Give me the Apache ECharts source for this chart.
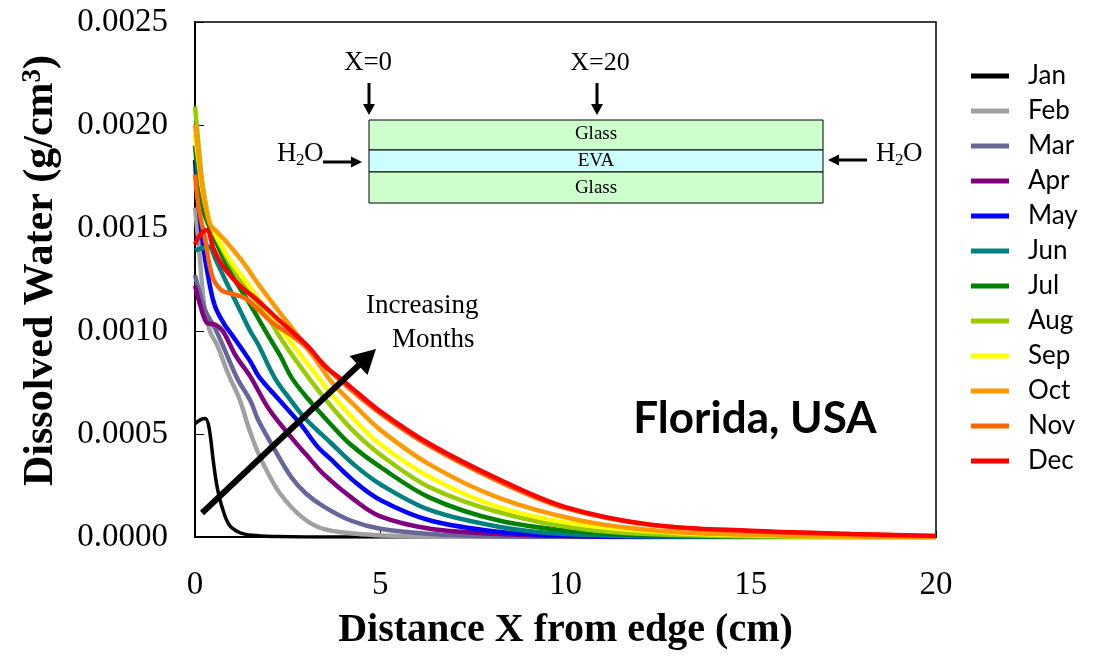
<!DOCTYPE html>
<html>
<head>
<meta charset="utf-8">
<script src="https://cdn.jsdelivr.net/npm/echarts@6/dist/echarts.min.js"></script>
<style>html,body{margin:0;padding:0;background:#fff}#c{width:1097px;height:656px}</style>
</head>
<body>
<div id="c"></div>
<script>
// ---- data: [distance cm, dissolved water g/cm3] ----
const months = ['Jan','Feb','Mar','Apr','May','Jun','Jul','Aug','Sep','Oct','Nov','Dec'];
const colors = ['#000000','#A0A0A0','#666699','#800080','#0000FF','#008080','#008000','#99CC00','#FFFF00','#FF9900','#FF6600','#FF0000'];
const xTicks = [0, 5, 10, 15, 20];
const yTicks = [0, 0.0005, 0.001, 0.0015, 0.002, 0.0025];

const jan = [[0,0.00055],[0.15,0.00057],[0.28,0.000575],[0.38,0.00053],[0.5,0.00036],[0.6,0.00024],[0.73,0.000145],[0.92,0.00006],[1.2,0.000022],[1.55,0.000008],[2.2,0.000002],[3,0],[20,0]];
const feb = [[0,0.0016],[0.1,0.00142],[0.25,0.00112],[0.4,0.001],[0.6,0.00093],[0.9,0.00079],[1.2,0.00067],[1.45,0.00053],[1.7,0.00041],[2.0,0.0003],[2.3,0.00021],[2.8,0.00011],[3.3,0.00005],[3.9,0.000024],[4.8,0.00001],[6,0.000003],[8,0],[20,0]];
const mar = [[0,0.00127],[0.15,0.00117],[0.3,0.00109],[0.55,0.00101],[0.8,0.00091],[1.14,0.00077],[1.5,0.00066],[1.7,0.00057],[2.1,0.00044],[2.6,0.00029],[3.0,0.00021],[3.5,0.000145],[4.2,0.00008],[5.0,0.00004],[6.35,0.000015],[8,0.000004],[10,0],[20,0]];
const apr = [[0,0.00122],[0.15,0.00112],[0.32,0.00104],[0.55,0.00103],[0.75,0.001],[1.1,0.00088],[1.49,0.00078],[2.0,0.00062],[2.57,0.00049],[3.0,0.0004],[3.5,0.0003],[4.3,0.00018],[5.0,0.0001],[6.35,0.00004],[8.2,0.000015],[10,0.000005],[12,0],[20,0]];
const may = [[0,0.00183],[0.1,0.0016],[0.23,0.0014],[0.37,0.00125],[0.54,0.00112],[0.8,0.00103],[1.0,0.00098],[1.5,0.00085],[1.72,0.00078],[2.3,0.00066],[2.84,0.00055],[3.3,0.00044],[3.65,0.00038],[4.3,0.00027],[5.0,0.00018],[6.35,0.00008],[8.2,0.000025],[10,0.000006],[13,0],[20,0]];
const jun = [[0,0.00139],[0.15,0.0014],[0.37,0.00141],[0.55,0.00135],[0.81,0.00125],[1.27,0.00108],[1.49,0.001],[1.72,0.00093],[2.16,0.00077],[2.6,0.00066],[3.0,0.00057],[3.65,0.00046],[4.3,0.00035],[5.0,0.000256],[6.35,0.00013],[8.2,0.00005],[10,0.000014],[13,0.000002],[20,0]];
const jul = [[0,0.0019],[0.1,0.00172],[0.2,0.0016],[0.4,0.0015],[0.7,0.00138],[1.0,0.00127],[1.45,0.00114],[2.0,0.00097],[2.3,0.00088],[2.62,0.00077],[3.1,0.00066],[3.65,0.00055],[4.19,0.00045],[5.0,0.00034],[6.35,0.00019],[8.2,0.00008],[10.4,0.000025],[13,0.000005],[20,0]];
const aug = [[0,0.00209],[0.1,0.0019],[0.2,0.00172],[0.4,0.00153],[0.7,0.00141],[1.0,0.00131],[1.45,0.00119],[1.85,0.0011],[2.4,0.00094],[3.08,0.00077],[3.65,0.00064],[4.3,0.00051],[5.0,0.0004],[6.35,0.00024],[8.2,0.00012],[10.4,0.00004],[13,0.00001],[20,0]];
const sep = [[0,0.00195],[0.1,0.00182],[0.2,0.00168],[0.4,0.00153],[0.7,0.00142],[1.0,0.00133],[1.5,0.00121],[1.9,0.00111],[2.4,0.00099],[3.0,0.00085],[3.35,0.00077],[3.65,0.0007],[4.3,0.00057],[5.0,0.00045],[6.35,0.00029],[8.2,0.000145],[10.4,0.00006],[13,0.00002],[16,0.000005],[20,0]];
const oct = [[0,0.002],[0.1,0.00185],[0.2,0.0017],[0.4,0.00152],[0.6,0.00148],[0.81,0.00144],[1.27,0.00134],[1.7,0.00123],[2.16,0.00112],[2.89,0.00095],[3.3,0.00085],[3.7,0.00075],[4.3,0.00064],[5.0,0.00052],[6.35,0.00035],[8.2,0.00019],[10.4,0.00008],[12.5,0.00003],[15,0.00001],[20,0]];
const nov = [[0,0.00176],[0.1,0.0016],[0.27,0.00145],[0.46,0.00127],[0.7,0.0012],[1.0,0.00118],[1.35,0.00116],[1.73,0.0011],[2.16,0.00103],[2.6,0.00098],[3.08,0.00091],[3.92,0.00076],[5.0,0.0006],[6.35,0.00044],[8.2,0.00027],[10,0.00014],[12.3,0.000058],[15,0.000028],[17.7,0.000014],[20,0.000005]];
const dec = [[0,0.00142],[0.15,0.00147],[0.32,0.00149],[0.5,0.0014],[0.73,0.00132],[1.0,0.00126],[1.27,0.00121],[1.62,0.00116],[2.16,0.00107],[2.6,0.001],[3.08,0.00092],[3.5,0.00083],[3.92,0.00077],[4.19,0.00073],[5.0,0.00061],[6.35,0.00045],[8.2,0.00028],[10,0.000145],[12.3,0.00006],[15,0.00003],[17.7,0.000015],[20,0.000005]];
const seriesData = [jan, feb, mar, apr, may, jun, jul, aug, sep, oct, nov, dec];

// ---- annotation helpers (inset diagram, arrows) ----
function arrow(x1, y1, x2, y2, w, hl, hw) {
  const dx = x2 - x1, dy = y2 - y1, L = Math.hypot(dx, dy);
  const ux = dx / L, uy = dy / L, px = -uy, py = ux;
  const bx = x2 - ux * hl, by = y2 - uy * hl;
  return [
    {type: 'line', shape: {x1: x1, y1: y1, x2: bx + ux, y2: by + uy}, style: {stroke: '#000', lineWidth: w}, z: 100},
    {type: 'polygon', shape: {points: [[x2, y2], [bx + px * hw / 2, by + py * hw / 2], [bx - px * hw / 2, by - py * hw / 2]]}, style: {fill: '#000'}, z: 100}
  ];
}
function txt(s, x, y, size, align, extra) {
  return Object.assign({type: 'text', x: x, y: y, z: 100, style: {text: s, fontFamily: 'Liberation Serif', fontSize: size, fill: '#000', textAlign: align || 'center', textVerticalAlign: 'middle'}}, extra || {});
}

const graphics = [].concat(
  [
    {type: 'rect', shape: {x: 369, y: 120, width: 454, height: 30}, style: {fill: '#CCFFCC', stroke: '#000', lineWidth: 1}, z: 90},
    {type: 'rect', shape: {x: 369, y: 150, width: 454, height: 22}, style: {fill: '#CCFFFF', stroke: '#000', lineWidth: 1}, z: 90},
    {type: 'rect', shape: {x: 369, y: 172, width: 454, height: 31}, style: {fill: '#CCFFCC', stroke: '#000', lineWidth: 1}, z: 90},
    txt('Glass', 596, 134, 19),
    txt('EVA', 596, 161, 19),
    txt('Glass', 596, 188, 19),
    txt('X=0', 368, 63, 27),
    txt('X=20', 600, 63, 26),
    txt('H', 277, 154, 27, 'left'),
    txt('2', 296, 161, 17, 'left'),
    txt('O', 304, 154, 27, 'left'),
    txt('H', 876, 154, 27, 'left'),
    txt('2', 895, 161, 17, 'left'),
    txt('O', 903, 154, 27, 'left'),
    txt('Increasing', 366, 306, 27, 'left'),
    txt('Months', 392, 340, 27, 'left'),
    {type: 'text', x: 755, y: 419, z: 100, style: {text: 'Florida, USA', fontFamily: 'Lato', fontWeight: 'bold', fontSize: 44, fill: '#000', textAlign: 'center', textVerticalAlign: 'middle'}}
  ],
  arrow(369, 83, 369, 115, 3, 11, 12),
  arrow(597, 83, 597, 115, 3, 11, 12),
  arrow(323, 162, 362, 162, 3, 11, 11),
  arrow(867, 160, 828, 160, 3, 11, 11),
  arrow(202, 513, 376, 349, 6, 24, 26)
);

const chart = echarts.init(document.getElementById('c'), null, {renderer: 'canvas'});
chart.setOption({
  animation: false,
  backgroundColor: '#fff',
  grid: {left: 195, right: 161, top: 22, bottom: 116, show: true, borderColor: '#000', borderWidth: 1.5, backgroundColor: 'transparent'},
  legend: {
    data: months, orient: 'vertical', left: 966, top: 58, icon: 'rect', itemWidth: 38, itemHeight: 5, itemGap: 9,
    textStyle: {fontFamily: 'Lato', fontSize: 26, color: '#000', lineHeight: 26, padding: [0, 0, 0, 14]}
  },
  xAxis: {
    type: 'value', min: xTicks[0], max: xTicks[xTicks.length - 1], interval: xTicks[1] - xTicks[0],
    name: 'Distance X from edge (cm)', nameLocation: 'middle', nameGap: 74,
    nameTextStyle: {fontFamily: 'Liberation Serif', fontWeight: 'bold', fontSize: 40, color: '#000'},
    axisLine: {show: true, onZero: false, lineStyle: {color: '#000', width: 2}},
    axisTick: {show: true, inside: true, length: 6, lineStyle: {color: '#000'}},
    axisLabel: {fontFamily: 'Liberation Serif', fontSize: 33, color: '#000', margin: 32},
    splitLine: {show: false}
  },
  yAxis: {
    type: 'value', min: yTicks[0], max: yTicks[yTicks.length - 1], interval: 0.0005,
    name: 'Dissolved Water (g/cm{s|3})', nameLocation: 'middle', nameGap: 133,
    nameTextStyle: {fontFamily: 'Liberation Serif', fontWeight: 'bold', fontSize: 42, color: '#000', padding: [0, 0, 0, 18],
      rich: {s: {fontFamily: 'Liberation Serif', fontWeight: 'bold', fontSize: 27, color: '#000', verticalAlign: 'top', lineHeight: 42}}},
    axisLine: {show: true, onZero: false, lineStyle: {color: '#000', width: 2}},
    axisTick: {show: true, inside: true, length: 9, lineStyle: {color: '#000'}},
    axisLabel: {fontFamily: 'Liberation Serif', fontSize: 33, color: '#000', margin: 27, formatter: v => v.toFixed(4)},
    splitLine: {show: false}
  },
  series: months.map((m, i) => ({
    name: m, type: 'line', data: seriesData[i], showSymbol: false, smooth: 0.35,
    color: colors[i], lineStyle: {color: colors[i], width: i === 0 ? 3.5 : 4.5}, z: 2 + i
  })),
  graphic: graphics
});
</script>
</body>
</html>
